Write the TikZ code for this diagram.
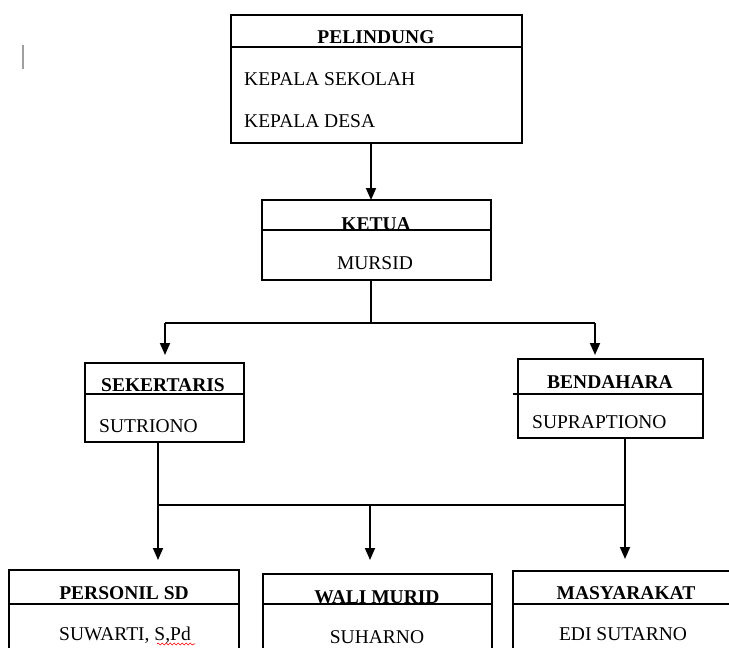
\documentclass[tikz,border=0pt]{standalone}
\usepackage{fontspec}
\setmainfont{Liberation Serif}
\usetikzlibrary{arrows.meta,decorations.pathmorphing}
\begin{document}
\begin{tikzpicture}[x=1pt,y=-1pt,
  box/.style={draw,line width=2pt,anchor=north west,inner sep=0pt,outer sep=0pt},
  div/.style={line width=1.8pt},
  lnk/.style={line width=1.8pt},
  arr/.style={lnk,-{Triangle[length=12pt,width=10pt]}},
  ttl/.style={font=\fontsize{19.5}{22}\selectfont\bfseries,anchor=base,inner sep=0pt},
  txt/.style={font=\fontsize{19.5}{22}\selectfont,anchor=base,inner sep=0pt},
  txtl/.style={txt,anchor=base west}]
\useasboundingbox (0,0) rectangle (729,648);
\clip (0,0) rectangle (729,648);

% boxes
\node[box,minimum width=291pt,minimum height=128pt] (pel) at (231,15) {};
\node[box,minimum width=229pt,minimum height=80pt] (ket) at (262,200) {};
\node[box,minimum width=159pt,minimum height=79pt] (sek) at (85,363) {};
\node[box,minimum width=185pt,minimum height=79pt] (ben) at (518,359) {};
\node[box,minimum width=230pt,minimum height=95pt] (per) at (9,570) {};
\node[box,minimum width=229pt,minimum height=95pt] (wal) at (263,574) {};
\node[box,minimum width=230pt,minimum height=95pt] (mas) at (513,571) {};

% dividers
\draw[div] (pel.west |- 0,47) -- (pel.east |- 0,47);
\draw[div] (ket.west |- 0,230) -- (ket.east |- 0,230);
\draw[div] (sek.west |- 0,394) -- (sek.east |- 0,394);
\draw[div] (513,394) -- (ben.east |- 0,394);
\draw[div] (per.west |- 0,604) -- (per.east |- 0,604);
\draw[div] (wal.west |- 0,604) -- (wal.east |- 0,604);
\draw[div] (mas.west |- 0,604) -- (mas.east |- 0,604);

% texts
\node[ttl] (tpel) at (376,43) {PELINDUNG};
\node[txtl] (tpel1) at (244,85) {KEPALA SEKOLAH};
\node[txtl] (tpel2) at (244,127) {KEPALA DESA};
\node[ttl] (tket) at (376,230) {KETUA};
\node[txt] (tket1) at (375,269) {MURSID};
\node[ttl,anchor=base west] (tsek) at (101,391) {SEKERTARIS};
\node[txtl] (tsek1) at (99,432) {SUTRIONO};
\node[ttl] (tben) at (610,388) {BENDAHARA};
\node[txtl] (tben1) at (532,428) {SUPRAPTIONO};
\node[ttl] (tper) at (124,599) {PERSONIL SD};
\node[txt] (tper1) at (125,640) {SUWARTI, S,Pd};
\node[ttl] (twal) at (377,603) {WALI MURID};
\node[txt] (twal1) at (377,643) {SUHARNO};
\node[ttl] (tmas) at (626,599) {MASYARAKAT};
\node[txt] (tmas1) at (623,640) {EDI SUTARNO};

% spell-check underline and cursor
\draw[red,line width=0.6pt,decorate,decoration={snake,amplitude=1pt,segment length=4pt}] (157,644) -- (195,644);
\draw[gray!75,line width=1.2pt] (23,45) -- (23,69);

% connectors
\coordinate (xk) at (371,0);
\draw[arr] (xk |- pel.south) -- (xk |- ket.north);
\coordinate (j1) at (371,323);
\coordinate (a1) at (165,323);
\coordinate (a2) at (595,323);
\draw[lnk] (xk |- ket.south) -- (j1);
\draw[lnk] (a1) -- (a2);
\draw[arr,shorten >=8pt] (a1) -- (a1 |- sek.north);
\draw[arr,shorten >=4pt] (a2) -- (a2 |- ben.north);

\coordinate (b1) at (158,505);
\coordinate (b2) at (625,505);
\coordinate (b3) at (370,505);
\draw[lnk] (b1 |- sek.south) -- (b1) -- (b2) -- (b2 |- ben.south);
\draw[arr,shorten >=10pt] (b1) -- (b1 |- per.north);
\draw[arr,shorten >=14pt] (b3) -- (b3 |- wal.north);
\draw[arr,shorten >=12pt] (b2) -- (b2 |- mas.north);
\end{tikzpicture}
\end{document}
